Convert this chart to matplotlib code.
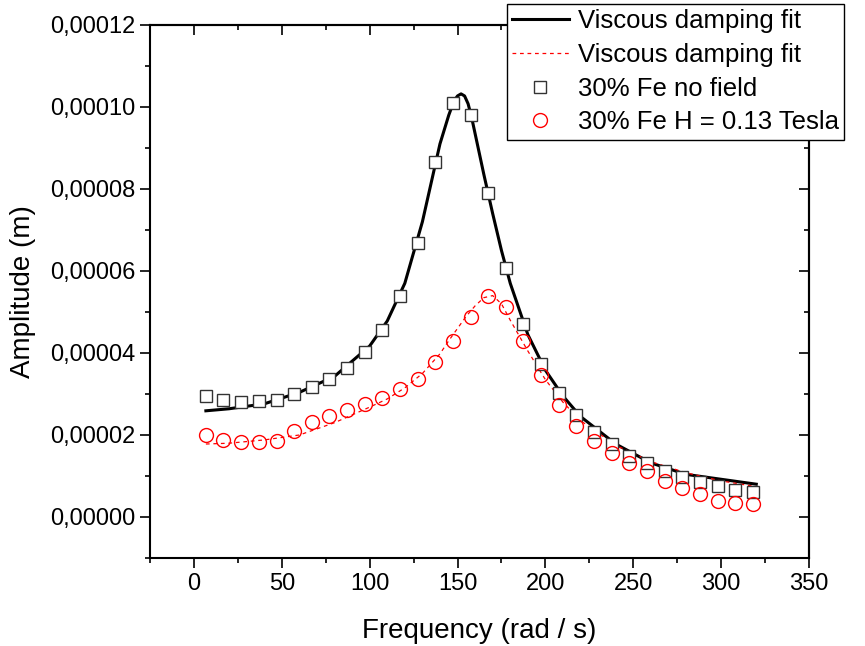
import matplotlib
matplotlib.use("Agg")
import matplotlib.pyplot as plt
from matplotlib.ticker import MultipleLocator, FuncFormatter

plt.rcParams["font.family"] = ["Liberation Sans", "DejaVu Sans"]

# measured points (frequency in rad/s, amplitude in m)
freq = [6.8, 16.8, 26.9, 36.9, 47.0, 57.0, 67.0, 77.1, 87.1, 97.2,
        107.2, 117.2, 127.3, 137.3, 147.4, 157.4, 167.4, 177.5, 187.5, 197.6,
        207.6, 217.6, 227.7, 237.7, 247.8, 257.8, 267.8, 277.9, 287.9, 298.0,
        308.0, 318.0]
amp_nofield = [2.95e-5, 2.85e-5, 2.81e-5, 2.83e-5, 2.86e-5, 2.99e-5, 3.16e-5, 3.36e-5, 3.63e-5, 4.02e-5,
               4.57e-5, 5.38e-5, 6.69e-5, 8.67e-5, 1.01e-4, 9.81e-5, 7.90e-5, 6.08e-5, 4.71e-5, 3.74e-5,
               3.03e-5, 2.50e-5, 2.08e-5, 1.77e-5, 1.50e-5, 1.31e-5, 1.13e-5, 0.98e-5, 0.86e-5, 0.75e-5,
               0.67e-5, 0.62e-5]
amp_field = [2.00e-5, 1.87e-5, 1.82e-5, 1.84e-5, 1.85e-5, 2.09e-5, 2.31e-5, 2.47e-5, 2.62e-5, 2.75e-5,
             2.91e-5, 3.12e-5, 3.37e-5, 3.77e-5, 4.29e-5, 4.88e-5, 5.40e-5, 5.12e-5, 4.29e-5, 3.46e-5,
             2.74e-5, 2.21e-5, 1.86e-5, 1.55e-5, 1.32e-5, 1.12e-5, 0.88e-5, 0.71e-5, 0.55e-5, 0.38e-5,
             0.34e-5, 0.31e-5]

# fitted curves
fit_x = [6.8, 20, 40, 60, 80, 100, 110, 120, 130, 140, 145, 148, 150, 152, 154, 156, 158, 160,
         162.5, 165, 170, 175, 180, 190, 200, 210, 220, 240, 260, 280, 300, 320]
fit_nofield = [2.59e-5, 2.64e-5, 2.76e-5, 3.04e-5, 3.43e-5, 4.17e-5, 4.78e-5, 5.70e-5, 7.20e-5, 9.10e-5,
               9.80e-5, 1.015e-4, 1.027e-4, 1.032e-4, 1.027e-4, 1.008e-4, 9.75e-5, 9.35e-5,
               8.85e-5, 8.35e-5, 7.40e-5, 6.50e-5, 5.70e-5, 4.45e-5, 3.58e-5, 2.95e-5, 2.45e-5, 1.78e-5,
               1.32e-5, 1.04e-5, 0.92e-5, 0.80e-5]
fit2_x = [6.8, 20, 40, 60, 80, 100, 110, 120, 130, 140, 145, 150, 155, 160, 165,
          170, 175, 180, 190, 200, 210, 220, 240, 260, 280, 300, 320]
fit_field = [1.78e-5, 1.80e-5, 1.88e-5, 2.00e-5, 2.30e-5, 2.68e-5, 2.88e-5, 3.15e-5, 3.50e-5, 3.98e-5,
             4.30e-5, 4.60e-5, 4.90e-5, 5.15e-5, 5.35e-5, 5.40e-5, 5.20e-5, 4.80e-5, 4.05e-5, 3.35e-5,
             2.80e-5, 2.35e-5, 1.75e-5, 1.35e-5, 1.08e-5, 0.88e-5, 0.74e-5]

fig = plt.figure(figsize=(8.65, 6.46), dpi=100)
ax = fig.add_axes([150 / 865, 1 - 558 / 646, 659 / 865, 533 / 646])

ax.plot(fit_x, fit_nofield, color="black", lw=2.2, label="Viscous damping fit", zorder=2)
ax.plot(fit2_x, fit_field, color="red", lw=0.9, ls=(0, (3, 3)), label="Viscous damping fit", zorder=2)
ax.plot(freq, amp_nofield, ls="none", marker="s", ms=9, mfc="white", mec="#333333", mew=1.0,
        label="30% Fe no field", zorder=3)
ax.plot(freq, amp_field, ls="none", marker="o", ms=10, mfc="none", mec="red", mew=1.0,
        label="30% Fe H = 0.13 Tesla", zorder=4)

ax.set_xlim(-25, 350)
ax.set_ylim(-0.00001, 0.00012)
ax.xaxis.set_major_locator(MultipleLocator(50))
ax.xaxis.set_minor_locator(MultipleLocator(25))
ax.yaxis.set_major_locator(MultipleLocator(0.00002))
ax.yaxis.set_minor_locator(MultipleLocator(0.00001))
ax.yaxis.set_major_formatter(FuncFormatter(lambda v, p: f"{v:.5f}".replace(".", ",")))

for s in ax.spines.values():
    s.set_linewidth(1.5)
ax.tick_params(which="both", direction="out", width=1.2, labelsize=17, pad=3)
ax.tick_params(which="major", length=7.5)
ax.tick_params(which="minor", length=3.8)

# inward ticks on the opposite spines
top = ax.secondary_xaxis("top")
top.xaxis.set_major_locator(MultipleLocator(50))
top.xaxis.set_minor_locator(MultipleLocator(25))
top.tick_params(which="both", direction="in", width=1.2, labeltop=False)
top.tick_params(which="major", length=7.5)
top.tick_params(which="minor", length=3.8)
top.spines["top"].set_linewidth(1.5)
right = ax.secondary_yaxis("right")
right.yaxis.set_major_locator(MultipleLocator(0.00002))
right.yaxis.set_minor_locator(MultipleLocator(0.00001))
right.tick_params(which="both", direction="in", width=1.2, labelright=False)
right.tick_params(which="major", length=7.5)
right.tick_params(which="minor", length=3.8)
right.spines["right"].set_linewidth(1.5)

ax.set_xlabel("Frequency (rad / s)", fontsize=20, labelpad=17)
ax.set_ylabel("Amplitude (m)", fontsize=20, labelpad=10)

leg = fig.legend(loc="upper left", bbox_to_anchor=(507 / 865, 1 - 4 / 646), fontsize=18.5,
                 frameon=True, fancybox=False, framealpha=1, edgecolor="black",
                 borderpad=0.2, labelspacing=0.38, handlelength=2.2, handletextpad=0.35,
                 borderaxespad=0, numpoints=1)
leg.get_frame().set_linewidth(1.0)

fig.savefig("out.png", dpi=100)
